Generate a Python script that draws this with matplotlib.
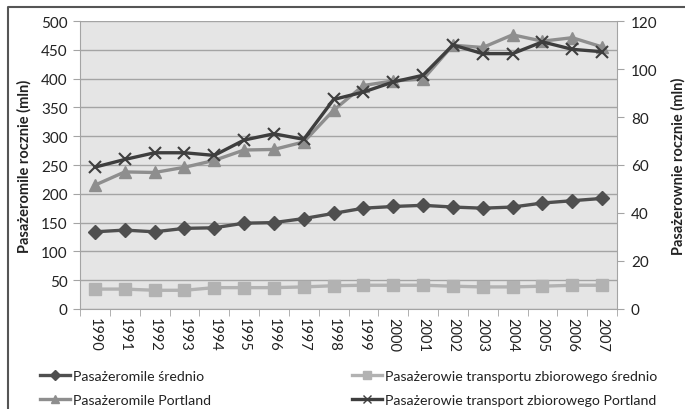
import matplotlib.pyplot as plt
from matplotlib.lines import Line2D

plt.rcParams['font.family'] = ['Lato', 'DejaVu Sans']

years = [str(y) for y in range(1990, 2008)]

# left axis (mln passenger miles)
miles_avg = [134, 137, 134, 140, 141, 149, 150, 157, 166, 175, 178, 180, 177, 175, 177, 184, 188, 192]
miles_portland = [215, 238, 237, 246, 258, 276, 277, 290, 345, 388, 396, 399, 458, 454, 476, 465, 471, 455]

# right axis (mln passengers)
riders_avg = [8.3, 8.3, 7.8, 7.8, 8.9, 8.9, 8.9, 9.2, 9.7, 9.9, 9.9, 9.9, 9.5, 9.2, 9.2, 9.5, 9.9, 9.9]
riders_portland = [59.1, 62.3, 65.1, 65.1, 64.0, 70.4, 73.0, 70.7, 87.3, 90.4, 94.6, 97.4,
                   110.0, 106.4, 106.4, 111.3, 108.2, 107.2]

labels = ['Pasażeromile średnio', 'Pasażerowie transportu zbiorowego średnio',
          'Pasażeromile Portland', 'Pasażerowie transport zbiorowego Portland']

c_miles_avg = '#4f4f4f'
c_riders_avg = '#b2b2b2'
c_miles_port = '#8e8e8e'
c_riders_port = '#3e3e3e'
grid_c = '#a4a4a4'
txt = '#222222'

fig = plt.figure(figsize=(6.85, 4.10), dpi=100)
W, H = 685, 410
ax = fig.add_axes([80 / W, 1 - 310 / H, 537 / W, 288 / H])
ax2 = ax.twinx()

x = list(range(len(years)))

ax.set_facecolor('#e5e5e5')
ax.set_ylim(0, 500)
ax.set_yticks(range(0, 501, 50))
ax.set_xlim(-0.5, len(years) - 0.5)
ax.yaxis.grid(True, color=grid_c, lw=1)
ax.set_axisbelow(True)
ax.set_xticks(x)
ax.set_xticklabels(years, rotation=270, fontsize=10.5, color=txt)
ax.set_xticks([i - 0.5 for i in range(len(years) + 1)], minor=True)
ax.tick_params(axis='x', which='major', length=0, pad=6)
ax.tick_params(axis='x', which='minor', length=5, color=grid_c)
ax.tick_params(axis='y', length=5, color=grid_c, labelsize=11, labelcolor=txt, pad=4)
for s in ['top', 'right']:
    ax.spines[s].set_visible(False)
ax.spines['left'].set_color(grid_c)
ax.spines['bottom'].set_color(grid_c)

ax2.set_ylim(0, 120)
ax2.set_yticks(range(0, 121, 20))
ax2.tick_params(axis='y', length=5, color=grid_c, labelsize=11, labelcolor=txt, pad=5)
for s in ['top', 'left', 'bottom']:
    ax2.spines[s].set_visible(False)
ax2.spines['right'].set_color(grid_c)

lw = 2.4
ax.plot(x, miles_avg, color=c_miles_avg, lw=lw, marker='D', ms=7, zorder=3)
ax.plot(x, miles_portland, color=c_miles_port, lw=lw, marker='^', ms=9, zorder=3)
ax2.plot(x, riders_avg, color=c_riders_avg, lw=lw, marker='s', ms=9, zorder=3)
ax2.plot(x, riders_portland, color=c_riders_port, lw=lw, marker='x', ms=9, mew=1.5, zorder=4)

ax.set_ylabel('Pasażeromile rocznie (mln)', fontsize=10.5, fontweight='bold', color=txt, labelpad=7)
ax2.set_ylabel('Pasażerownie rocznie (mln)', fontsize=10.5, fontweight='bold', color=txt, labelpad=10)

h_miles_avg = Line2D([], [], color=c_miles_avg, lw=lw, marker='D', ms=5)
h_riders_avg = Line2D([], [], color=c_riders_avg, lw=lw, marker='s', ms=6)
h_miles_port = Line2D([], [], color=c_miles_port, lw=lw, marker='^', ms=6)
h_riders_port = Line2D([], [], color=c_riders_port, lw=lw, marker='x', ms=6)

leg_kw = dict(loc='upper left', frameon=False, fontsize=10.2, handlelength=2.1,
              handletextpad=0.25, labelspacing=0.85, labelcolor=txt,
              borderpad=0, borderaxespad=0)
# two legend columns placed separately
fig.legend([h_miles_avg, h_miles_port], [labels[0], labels[2]],
           bbox_to_anchor=(40 / W, 1 - 371 / H), **leg_kw)
fig.legend([h_riders_avg, h_riders_port], [labels[1], labels[3]],
           bbox_to_anchor=(352 / W, 1 - 371 / H), **leg_kw)

# outer chart frame (top and left edges visible)
fig.add_artist(Line2D([8 / W, 8 / W, 1], [0, 1 - 8 / H, 1 - 8 / H], color='#555555', lw=1.5))

fig.savefig('out.png', dpi=100)
